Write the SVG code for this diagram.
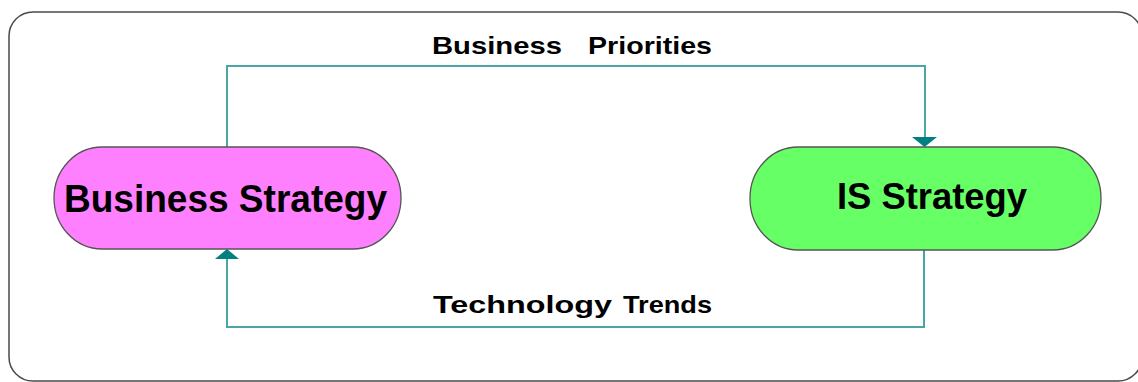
<svg xmlns="http://www.w3.org/2000/svg" width="1138" height="382" viewBox="0 0 1138 382">
<style>
.frame{fill:#fff;stroke:#4a4a4a;stroke-width:1.5}
.node{stroke:#555;stroke-width:1.3}
.ntext{font-family:"Liberation Sans",Arial,sans-serif;font-weight:bold;fill:#000}
.lbl{font-family:"Liberation Sans",Arial,sans-serif;font-weight:bold;font-size:24px;fill:#000}
.conn{fill:none;stroke:#4aa6a6;stroke-width:2}
.head{fill:#008080}
</style>
<rect class="frame" x="9" y="12" width="1133" height="369" rx="24" ry="24"/>
<g id="connectors">
<polyline class="conn" points="227,147 227,66 925,66 925,138"/>
<polygon class="head" points="912,137 937,137 924.5,147"/>
<polyline class="conn" points="924,250 924,327 227,327 227,259"/>
<polygon class="head" points="215,259 239,259 227,249"/>
</g>
<g id="label-business-priorities">
<text class="lbl" y="54"><tspan x="432" textLength="130" lengthAdjust="spacingAndGlyphs">Business</tspan> <tspan x="588" textLength="124" lengthAdjust="spacingAndGlyphs">Priorities</tspan></text>
</g>
<g id="label-technology-trends">
<text class="lbl" y="313"><tspan x="433" textLength="179" lengthAdjust="spacingAndGlyphs">Technology</tspan> <tspan x="623" textLength="89" lengthAdjust="spacingAndGlyphs">Trends</tspan></text>
</g>
<g id="business-strategy">
<rect class="node" x="54" y="147" width="347" height="102" rx="48" ry="51" fill="#ff80ff"/>
<text class="ntext" x="64" y="212" font-size="39" textLength="323" lengthAdjust="spacingAndGlyphs">Business Strategy</text>
</g>
<g id="is-strategy">
<rect class="node" x="750" y="147" width="351" height="103" rx="48" ry="51" fill="#66ff66"/>
<text class="ntext" x="837" y="209" font-size="37" textLength="190" lengthAdjust="spacingAndGlyphs">IS Strategy</text>
</g>
</svg>
